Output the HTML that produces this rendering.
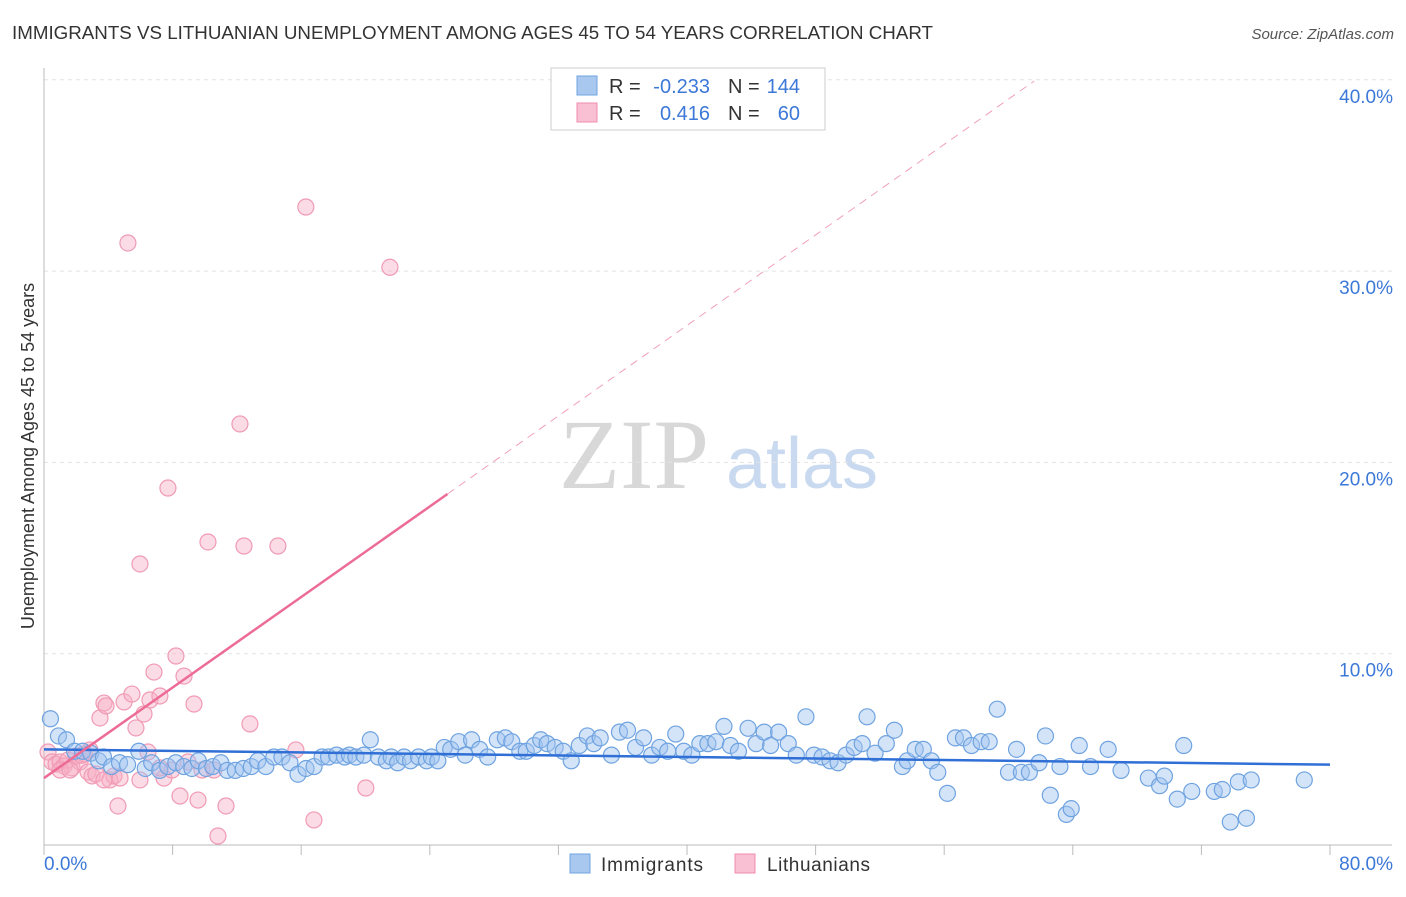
<!DOCTYPE html>
<html><head><meta charset="utf-8"><style>
body{margin:0;background:#fff;font-family:"Liberation Sans",sans-serif;}
svg text{font-family:"Liberation Sans",sans-serif;}
</style></head><body>
<svg id="chart" width="1406" height="892" xmlns="http://www.w3.org/2000/svg">
<text x="12" y="39" font-size="18" fill="#333" textLength="921" lengthAdjust="spacingAndGlyphs">IMMIGRANTS VS LITHUANIAN UNEMPLOYMENT AMONG AGES 45 TO 54 YEARS CORRELATION CHART</text>
<text x="1394" y="39" font-size="15" fill="#555" text-anchor="end" font-style="italic">Source: ZipAtlas.com</text>
<text x="634" y="488" font-size="100" fill="#d8d8d8" text-anchor="middle" style="font-family:'Liberation Serif',serif">ZIP</text>
<text x="802" y="488" font-size="72" fill="#c9daf0" text-anchor="middle">atlas</text>
<g id="grid"></g><g id="axes"></g><g id="marks"></g>
<text transform="translate(34,456) rotate(-90)" font-size="18" fill="#333" text-anchor="middle">Unemployment Among Ages 45 to 54 years</text>
<g>
<rect x="551" y="68" width="274" height="62" fill="#fff" stroke="#ccc"/>
<rect x="577" y="76" width="20" height="19" fill="#a9c8f0" stroke="#6fa3e0"/>
<rect x="577" y="103" width="20" height="19" fill="#f8c0d2" stroke="#f08cab"/>
<text x="609" y="93" font-size="20" fill="#333">R =</text>
<text x="710" y="93" font-size="20" fill="#3c78d8" text-anchor="end">-0.233</text>
<text x="728" y="93" font-size="20" fill="#333">N =</text>
<text x="800" y="93" font-size="20" fill="#3c78d8" text-anchor="end">144</text>
<text x="609" y="120" font-size="20" fill="#333">R =</text>
<text x="710" y="120" font-size="20" fill="#3c78d8" text-anchor="end">0.416</text>
<text x="728" y="120" font-size="20" fill="#333">N =</text>
<text x="800" y="120" font-size="20" fill="#3c78d8" text-anchor="end">60</text>
</g>
<g>
<rect x="570" y="854" width="20" height="19" fill="#a9c8f0" stroke="#6fa3e0"/>
<text x="601" y="871" font-size="19" fill="#333" textLength="102">Immigrants</text>
<rect x="735" y="854" width="20" height="19" fill="#f8c0d2" stroke="#f08cab"/>
<text x="767" y="871" font-size="19" fill="#333" textLength="103">Lithuanians</text>
</g>
</svg>
<script>
const blueX=[0.4,0.9,1.4,1.9,2.4,2.9,3.4,3.7,4.2,4.7,5.2,5.9,6.3,6.7,7.2,7.7,8.2,8.7,9.2,9.6,10.1,10.5,11.0,11.4,11.9,12.4,12.9,13.3,13.8,14.3,14.8,15.3,15.8,16.3,16.8,17.3,17.7,18.2,18.7,19.0,19.4,19.9,20.3,20.8,21.3,21.6,22.0,22.4,22.8,23.3,23.8,24.1,24.5,24.9,25.3,25.8,26.2,26.6,27.1,27.6,28.2,28.7,29.1,29.6,30.0,30.5,30.9,31.3,31.8,32.3,32.8,33.3,33.8,34.2,34.6,35.3,35.8,36.3,36.8,37.3,37.8,38.3,38.8,39.3,39.8,40.3,40.8,41.3,41.8,42.3,42.7,43.2,43.8,44.3,44.8,45.2,45.7,46.3,46.8,47.4,47.9,48.4,48.9,49.4,49.9,50.4,50.9,51.2,51.7,52.4,52.9,53.4,53.7,54.2,54.7,55.2,55.6,56.2,56.7,57.2,57.7,58.3,58.8,59.3,60.0,60.5,60.8,61.3,61.9,62.3,62.6,63.2,63.6,63.9,64.4,65.1,66.2,67.0,68.7,69.4,69.7,70.5,70.9,71.4,72.8,73.3,73.8,74.3,74.8,75.1,78.4];
const blueY=[6.6,5.7,5.5,4.9,4.9,4.8,4.4,4.6,4.1,4.3,4.2,4.9,4.0,4.3,3.9,4.1,4.3,4.1,4.0,4.4,4.0,4.1,4.3,3.9,3.9,4.0,4.1,4.4,4.1,4.6,4.6,4.3,3.7,4.0,4.1,4.6,4.6,4.7,4.6,4.7,4.6,4.7,5.5,4.6,4.4,4.6,4.3,4.6,4.4,4.6,4.4,4.6,4.4,5.1,5.0,5.4,4.7,5.5,5.0,4.6,5.5,5.6,5.4,4.9,4.9,5.2,5.5,5.3,5.1,4.9,4.4,5.2,5.7,5.3,5.6,4.7,5.9,6.0,5.1,5.6,4.7,5.1,4.9,5.8,4.9,4.7,5.3,5.3,5.4,6.2,5.2,4.9,6.1,5.3,5.9,5.2,5.9,5.3,4.7,6.7,4.7,4.6,4.4,4.3,4.7,5.1,5.3,6.7,4.8,5.3,6.0,4.1,4.4,5.0,5.0,4.4,3.8,2.7,5.6,5.6,5.2,5.4,5.4,7.1,3.8,5.0,3.8,3.8,4.3,5.7,2.6,4.1,1.6,1.9,5.2,4.1,5.0,3.9,3.5,3.1,3.6,2.4,5.2,2.8,2.8,2.9,1.2,3.3,1.4,3.4,3.4];
const pinkX=[0.25,0.5,0.75,1.0,1.24,1.49,1.74,1.99,2.24,2.49,2.74,2.99,3.23,3.48,3.73,3.86,4.1,4.35,4.6,4.98,5.22,5.47,5.72,5.97,6.22,6.47,6.59,6.84,7.21,7.46,7.71,7.96,8.21,8.46,8.71,8.96,9.33,9.58,9.83,10.2,10.57,10.82,11.32,12.19,12.44,12.81,14.55,15.67,16.29,16.79,20.02,21.52,3.73,1.0,1.62,4.73,5.97,7.21,2.86,2.36];
const pinkY=[4.86,4.34,4.23,4.34,4.13,4.44,4.03,4.65,4.34,4.76,3.82,3.61,3.71,6.64,7.42,7.27,3.40,3.61,2.04,7.48,31.47,7.89,6.12,14.69,6.85,4.86,7.58,9.04,7.79,3.50,18.66,3.92,9.88,2.56,8.83,4.34,7.37,2.35,3.92,15.84,3.92,0.47,2.04,22.01,15.63,6.33,15.63,4.97,33.35,1.31,2.98,30.2,3.40,3.92,3.92,3.50,3.40,4.03,4.97,4.7];
const yTicks=[10,20,30,40];
const xTickVals=[0,8,16,24,32,40,48,56,64,72,80];
const blueTrend=[5.0,4.2];
const pinkTrend=[3.5,0.5915];
const NS='http://www.w3.org/2000/svg';
const X=v=>44+v*16.075, Y=v=>845-v*19.13;
function mk(tag,attrs,parent){const e=document.createElementNS(NS,tag);for(const k in attrs)e.setAttribute(k,attrs[k]);parent.appendChild(e);return e;}
const grid=document.getElementById('grid'),axes=document.getElementById('axes'),marks=document.getElementById('marks');
yTicks.forEach(t=>{
 const l=mk('line',{x1:44,x2:1392,y1:Y(t),y2:Y(t),stroke:'#e2e2e2','stroke-dasharray':'4,4'},grid);
 
 
 const tx=mk('text',{x:1393,y:Y(t)+23,'font-size':19,fill:'#3c78d8','text-anchor':'end'},grid);
 tx.textContent=t.toFixed(1)+'%';
 
 
});
const ax=mk('path',{d:'M44 68V845H1392',stroke:'#bbb',fill:'none'},axes);


xTickVals.forEach(t=>{
 const l=mk('line',{x1:X(t),x2:X(t),y1:845,y2:855,stroke:'#bbb'},axes);
 
 
});
[[0,'start',44,'0.0%'],[80,'end',1393,'80.0%']].forEach(a=>{
 const tx=mk('text',{x:a[2],y:870,'font-size':19,fill:'#3c78d8','text-anchor':a[1]},axes);
 tx.textContent=a[3];
 
 
});
for(let i=0;i<pinkX.length;i++){
 const c=mk('circle',{cx:X(pinkX[i]),cy:Y(pinkY[i]),r:8,fill:'rgba(246,176,198,0.45)',stroke:'#f09ab4','stroke-width':1.2},marks);
 
 
}
for(let i=0;i<blueX.length;i++){
 const c=mk('circle',{cx:X(blueX[i]),cy:Y(blueY[i]),r:8,fill:'rgba(160,196,240,0.45)',stroke:'#6fa3e0','stroke-width':1.2},marks);
 
 
}
const bt=mk('line',{x1:X(0),y1:Y(blueTrend[0]),x2:X(80),y2:Y(blueTrend[1]),stroke:'#2f6fd6','stroke-width':2.5},marks);


const pe=25.1, pd=61.6;
const ps=mk('line',{x1:X(0),y1:Y(pinkTrend[0]),x2:X(pe),y2:Y(pinkTrend[0]+pinkTrend[1]*pe),stroke:'#ec6b97','stroke-width':2.5},marks);


const pdl=mk('line',{x1:X(pe),y1:Y(pinkTrend[0]+pinkTrend[1]*pe),x2:X(pd),y2:Y(pinkTrend[0]+pinkTrend[1]*pd),stroke:'#f0a0b8','stroke-width':1,'stroke-dasharray':'8,6'},marks);


</script>
</body></html>
